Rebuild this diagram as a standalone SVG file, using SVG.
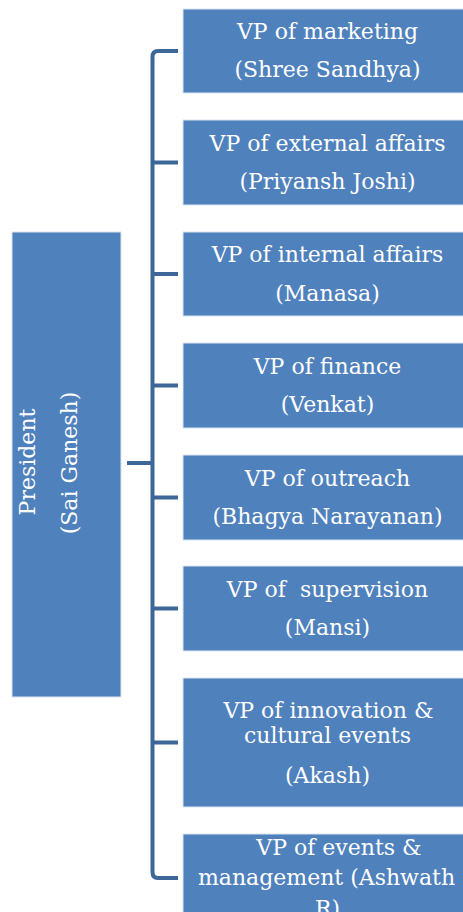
<svg xmlns="http://www.w3.org/2000/svg" width="463" height="912" viewBox="0 0 463 912">
<style>
.box{fill:#4f81bd;stroke:#dce6f2;stroke-width:1}
.t{font-family:"DejaVu Serif","Liberation Serif",serif;font-size:22px;fill:#ffffff;text-anchor:middle}
.c{fill:none;stroke:#3d6798;stroke-width:4}
</style>
<rect width="463" height="912" fill="#ffffff"/>
<g id="connectors">
<path class="c" d="M178,51 H158 Q152.5,51 152.5,57 V872 Q152.5,878 158,878 H178"/>
<path class="c" d="M152.5,162.5 H178 M152.5,274 H178 M152.5,385.5 H178 M152.5,497.5 H178 M152.5,608.5 H178 M152.5,742.5 H178 M127,463 H152.5"/>
</g>
<g id="president">
<rect class="box" x="12" y="232" width="109" height="465"/>
<text class="t" transform="translate(35,462) rotate(-90)">President</text>
<text class="t" transform="translate(77,463) rotate(-90)">(Sai Ganesh)</text>
</g>
<g id="vp-marketing">
<rect class="box" x="183" y="9" width="289" height="84"/>
<text class="t" x="327.5" y="39">VP of marketing</text>
<text class="t" x="327.5" y="77">(Shree Sandhya)</text>
</g>
<g id="vp-external">
<rect class="box" x="183" y="120" width="289" height="85"/>
<text class="t" x="327.5" y="151">VP of external affairs</text>
<text class="t" x="327.5" y="189">(Priyansh Joshi)</text>
</g>
<g id="vp-internal">
<rect class="box" x="183" y="232" width="289" height="84"/>
<text class="t" x="327.5" y="262">VP of internal affairs</text>
<text class="t" x="327.5" y="301">(Manasa)</text>
</g>
<g id="vp-finance">
<rect class="box" x="183" y="343" width="289" height="85"/>
<text class="t" x="327.5" y="374">VP of finance</text>
<text class="t" x="327.5" y="412">(Venkat)</text>
</g>
<g id="vp-outreach">
<rect class="box" x="183" y="455" width="289" height="85"/>
<text class="t" x="327.5" y="486">VP of outreach</text>
<text class="t" x="327.5" y="524">(Bhagya Narayanan)</text>
</g>
<g id="vp-supervision">
<rect class="box" x="183" y="566" width="289" height="85"/>
<text class="t" x="327.5" y="597" xml:space="preserve">VP of  supervision</text>
<text class="t" x="327.5" y="635">(Mansi)</text>
</g>
<g id="vp-innovation">
<rect class="box" x="183" y="678" width="289" height="129"/>
<text class="t" x="328.5" y="718">VP of innovation &amp;</text>
<text class="t" x="327.5" y="743">cultural events</text>
<text class="t" x="327.5" y="783">(Akash)</text>
</g>
<g id="vp-events">
<rect class="box" x="183" y="834" width="289" height="90"/>
<text class="t" x="339" y="855">VP of events &amp;</text>
<text class="t" x="326.5" y="885">management (Ashwath</text>
<text class="t" x="327.5" y="916">R)</text>
</g>
</svg>
